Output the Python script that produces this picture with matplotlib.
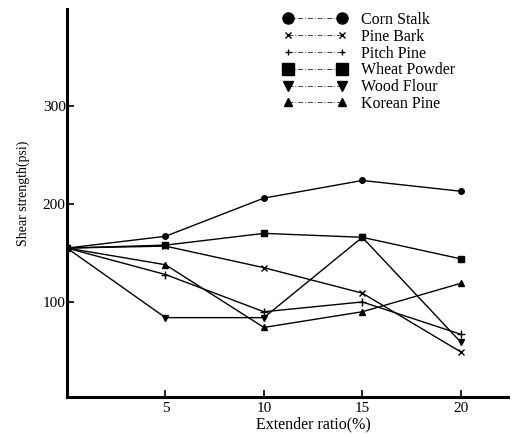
import numpy as np
import matplotlib as mpl
mpl.use('Agg')
import matplotlib.pyplot as plt
from matplotlib.lines import Line2D

plt.rcParams['font.family'] = ['Liberation Serif', 'DejaVu Serif']

# extender ratio (%)
ratio = [0, 5, 10, 15, 20]

# shear strength (psi)
corn_stalk = [155, 167, 206, 224, 213]
pine_bark = [155, 157, 135, 109, 49]
pitch_pine = [155, 128, 90, 100, 67]
wheat_powder = [155, 158, 170, 166, 144]
wood_flour = [155, 84, 84, 166, 59]
korean_pine = [155, 138, 74, 90, 119]

names = ['Corn Stalk', 'Pine Bark', 'Pitch Pine', 'Wheat Powder', 'Wood Flour', 'Korean Pine']
series = [corn_stalk, pine_bark, pitch_pine, wheat_powder, wood_flour, korean_pine]
markers = ['o', 'x', '+', 's', 'v', '^']
data_ms = [4, 5, 6, 4, 4, 4]
legend_ms = [8, 4, 5, 8, 7, 6]

fig = plt.figure(figsize=(5.17, 4.37), dpi=100)
ax = fig.add_axes([67/517, 40/437, 441/517, 388/437])

for vals, m, ms in zip(series, markers, data_ms):
    ax.plot(ratio, vals, color='black', lw=1.0, marker=m, ms=ms, mew=1.0)

ax.set_xlim(0, 22.4)
ax.set_ylim(3, 399)
ax.set_xticks([5, 10, 15, 20])
ax.set_yticks([100, 200, 300])
ax.tick_params(direction='in', length=5, width=1.2, labelsize=11)
ax.tick_params(axis='x', pad=3.5)
ax.tick_params(axis='y', pad=1)
for s in ['top', 'right']:
    ax.spines[s].set_visible(False)
for s in ['left', 'bottom']:
    ax.spines[s].set_linewidth(2.2)

ax.set_xlabel('Extender ratio(%)', fontsize=11.5)
ax.set_ylabel('Shear strength(psi)', fontsize=10)
ax.xaxis.set_label_coords((313 - 67) / 441, -0.05)
ax.yaxis.set_label_coords(-0.085, (397 - 193) / 388)

handles = [Line2D([], [], color='#444444', lw=0.7, ls=(0, (5, 2, 1, 2)),
                  marker=m, ms=ms, mfc='black', mec='black') for m, ms in zip(markers, legend_ms)]
fig.legend(handles, names, loc='upper left', bbox_to_anchor=(271/517, 1.0),
           frameon=False, numpoints=2, handlelength=4.0, handletextpad=0.9,
           labelspacing=0.05, borderpad=0.25, fontsize=11.5)

plt.savefig('out.png', dpi=100)
plt.close()
